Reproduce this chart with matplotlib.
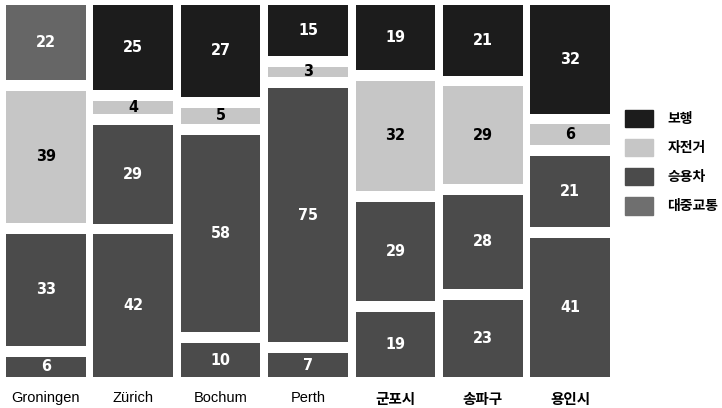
import numpy as np
import matplotlib.pyplot as plt
from matplotlib.patches import Patch

cities = ["Groningen", "Zürich", "Bochum", "Perth", "군포시", "송파구", "용인시"]
walk = [22, 25, 27, 15, 19, 21, 32]      # 보행 (top)
bike = [39, 4, 5, 3, 32, 29, 6]          # 자전거
car = [33, 29, 58, 75, 29, 28, 21]       # 승용차
transit = [6, 42, 10, 7, 19, 23, 41]     # 대중교통 (bottom)
legend_labels = ["보행", "자전거", "승용차", "대중교통"]

c_walk = "#1c1c1c"
c_bike = "#c6c6c6"
c_car = "#4b4b4b"
c_transit = "#6f6f6f"

plt.rcParams['font.family'] = ['Liberation Sans', 'Noto Sans CJK KR', 'DejaVu Sans']

fig = plt.figure(figsize=(7.22, 4.08), dpi=100)
ax = fig.add_axes([6/722, 1 - 377/408, 604/722, 372/408])

x = np.arange(len(cities))
w = 0.91
gap = 3.2
full = 100.0

# each column scaled to fill the full height (totals are 99..101)
totals = np.array(walk) + np.array(bike) + np.array(car) + np.array(transit)
scale = full / totals

rows = [(transit, c_transit), (car, c_car), (bike, c_bike), (walk, c_walk)]
bottom = np.zeros(len(cities))
for k, (vals, col) in enumerate(rows):
    vals = np.array(vals, dtype=float)
    h = vals * scale
    cols = [col] * len(cities)
    if col == c_transit:
        cols = [c_car] * len(cities)   # bottom blocks look same as 승용차 in the figure
    if col == c_walk:
        cols[0] = "#666666"            # Groningen top block is lighter
    ax.bar(x, h, w, bottom=bottom, color=cols, edgecolor="none")
    for i, v in enumerate(vals):
        tc = "black" if col == c_bike else "white"
        ax.text(x[i], bottom[i] + h[i] / 2, f"{int(v)}", ha="center", va="center",
                color=tc, fontsize=11.5, fontweight="bold", fontstretch="condensed",
                family=['DejaVu Sans'])
    bottom = bottom + h + gap

ax.set_xlim(-w / 2, len(cities) - 1 + w / 2)
ax.set_ylim(0, full + 3 * gap)
ax.set_xticks(x)
ax.set_xticklabels(cities, fontsize=10.5)
for lab in ax.get_xticklabels()[4:]:
    lab.set_fontweight("bold")
    lab.set_family(['Noto Sans CJK KR'])
ax.tick_params(axis="x", length=0, pad=10)
ax.set_yticks([])
for s in ax.spines.values():
    s.set_visible(False)

handles = [Patch(color=c) for c in [c_walk, c_bike, c_car, c_transit]]
fig.legend(handles, legend_labels, loc="upper left", bbox_to_anchor=(619.5/722, 1 - 104/408),
           frameon=False, handlelength=2.0, handleheight=1.55, labelspacing=0.85,
           handletextpad=1.05, borderpad=0.4, borderaxespad=0,
           prop={'family': 'Noto Sans CJK KR', 'weight': 'bold', 'size': 10})

fig.savefig("out.png", dpi=100)
